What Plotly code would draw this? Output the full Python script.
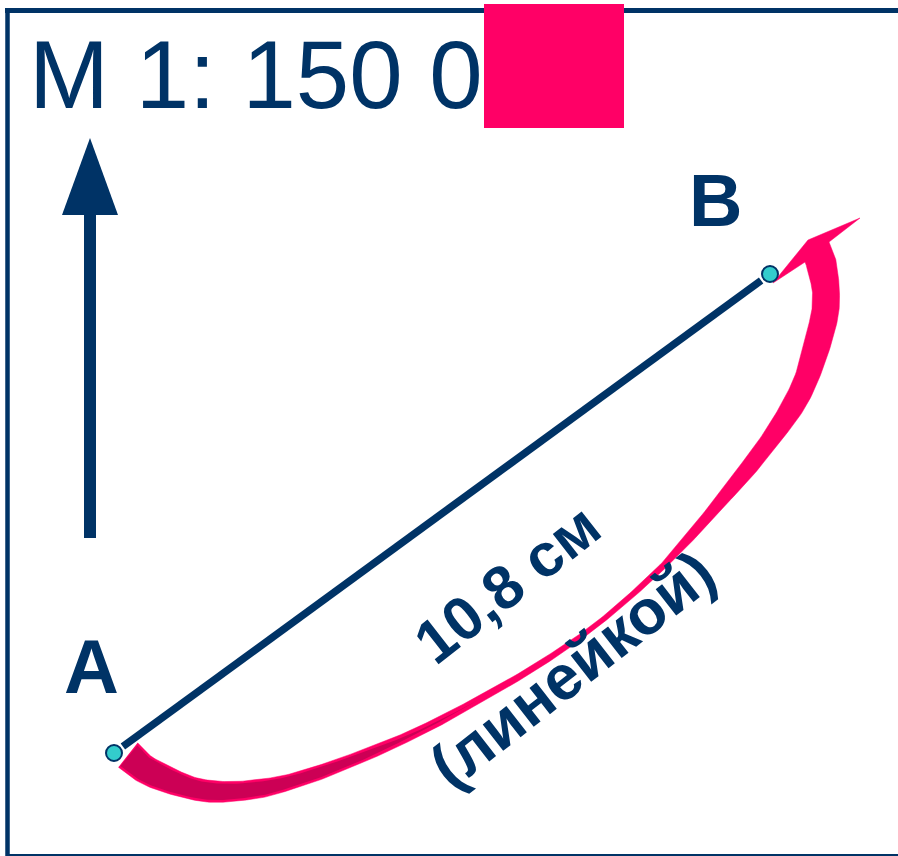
import numpy as np
import plotly.graph_objects as go

# ---- data (pixel coordinates of the 898x856 drawing) ----
point_labels = ["A", "B"]
point_x = [114, 770]
point_y = [753, 274]

scale_text = "M 1: 150 0"
distance_text = "10,8 см"
method_text = "(линейкой)"

# centerline of the curved (pink) arrow and its width along the way
arc_x = [128, 150, 200, 250, 300, 360, 420, 480, 540, 600, 660, 700, 757, 800, 822, 826, 821]
arc_y = [755, 772, 790, 790, 779, 757, 731, 699, 664, 622, 569, 525, 457, 393, 327, 293, 262]
arc_w = [31, 28, 22, 19, 15, 12, 9, 7, 6, 5, 6, 10, 17, 23, 27, 27, 30]
dark_until = 7  # index of control point where the darker underside ends

# arrow head of the curved arrow: notch, apex, shoulder, barb tip, barb root
head_x = [829, 860, 808, 773, 805]
head_y = [242, 218, 240, 283, 262]

# north arrow
north_x = [90, 90, 62, 118]
north_y = [538, 138, 215, 215]

NAVY = "#003366"
PINK = "#FF0066"
DARK_PINK = "#CC0055"
CYAN = "#33CCCC"
FONT = "Arial, Liberation Sans, sans-serif"


def catmull(xs, ys, ws, n=24):
    P = np.column_stack([xs, ys]).astype(float)
    E = np.vstack([2 * P[0] - P[1], P, 2 * P[-1] - P[-2]])
    pts, wid = [], []
    for i in range(len(P) - 1):
        p0, p1, p2, p3 = E[i:i + 4]
        last = i == len(P) - 2
        t = np.linspace(0, 1, n + (1 if last else 0), endpoint=last)[:, None]
        c = 0.5 * ((2 * p1) + (-p0 + p2) * t + (2 * p0 - 5 * p1 + 4 * p2 - p3) * t ** 2
                   + (-p0 + 3 * p1 - 3 * p2 + p3) * t ** 3)
        pts.append(c)
        tt = t[:, 0]
        s = tt * tt * (3 - 2 * tt)  # smooth width transition
        wid.append(ws[i] + (ws[i + 1] - ws[i]) * s)
    return np.vstack(pts), np.concatenate(wid)


def band(c, w):
    tx = np.gradient(c[:, 0])
    ty = np.gradient(c[:, 1])
    L = np.hypot(tx, ty)
    nx, ny = -ty / L, tx / L
    outer = np.column_stack([c[:, 0] + nx * w / 2, c[:, 1] + ny * w / 2])
    inner = np.column_stack([c[:, 0] - nx * w / 2, c[:, 1] - ny * w / 2])
    return outer, inner


center, width = catmull(arc_x, arc_y, arc_w)
outer, inner = band(center, width)

px = list(outer[:, 0]) + head_x + list(inner[::-1, 0])
py = list(outer[:, 1]) + head_y + list(inner[::-1, 1])

fig = go.Figure()

# full pink arrow
fig.add_trace(go.Scatter(x=px, y=py, mode="lines", fill="toself", fillcolor=PINK,
                         line=dict(color=PINK, width=0.5), hoverinfo="skip"))

# darker underside on the first part
n_dark = dark_until * 24
dc = center[1:n_dark + 1]
dw = np.maximum(width[1:n_dark + 1] - 4.5, 0)
taper = np.clip((n_dark - np.arange(1, n_dark + 1)) / 48.0, 0, 1)
dw = dw * taper
do, di = band(dc, dw)
fig.add_trace(go.Scatter(x=list(do[:, 0]) + list(di[::-1, 0]),
                         y=list(do[:, 1]) + list(di[::-1, 1]),
                         mode="lines", fill="toself", fillcolor=DARK_PINK,
                         line=dict(color=DARK_PINK, width=0), hoverinfo="skip"))

# north arrow
fig.add_trace(go.Scatter(x=north_x[:2], y=[north_y[0], north_y[2] - 2], mode="lines",
                         line=dict(color=NAVY, width=12), hoverinfo="skip"))
fig.add_trace(go.Scatter(x=[north_x[2], north_x[1], north_x[3], north_x[2]],
                         y=[north_y[2], north_y[1], north_y[3], north_y[2]],
                         mode="lines", fill="toself", fillcolor=NAVY,
                         line=dict(color=NAVY, width=0), hoverinfo="skip"))

# segment A-B (shortened at both ends)
ax, ay, bx, by = point_x[0], point_y[0], point_x[1], point_y[1]
d = np.hypot(bx - ax, by - ay)
ux, uy = (bx - ax) / d, (by - ay) / d
gap = 11
fig.add_trace(go.Scatter(x=[ax + ux * gap, bx - ux * gap], y=[ay + uy * gap, by - uy * gap],
                         mode="lines", line=dict(color=NAVY, width=7.5), hoverinfo="skip"))

# points
fig.add_trace(go.Scatter(x=point_x, y=point_y, mode="markers",
                         marker=dict(size=16, color=CYAN, line=dict(color=NAVY, width=2)),
                         hoverinfo="skip"))

# frame and scale box
shapes = [
    dict(type="line", x0=5, x1=898, y0=10.5, y1=10.5, line=dict(color=NAVY, width=5)),
    dict(type="line", x0=7.5, x1=7.5, y0=9, y1=856, line=dict(color=NAVY, width=4.5)),
    dict(type="line", x0=6, x1=898, y0=855, y1=855, line=dict(color=NAVY, width=2)),
    dict(type="rect", x0=484, x1=624, y0=4, y1=128, fillcolor=PINK, line=dict(width=0)),
]

annotations = [
    dict(x=27, y=74, text=scale_text, xanchor="left", yanchor="middle", showarrow=False,
         font=dict(family=FONT, size=96, color=NAVY)),
    dict(x=point_x[1] - 55, y=200, text="<b>" + point_labels[1] + "</b>", showarrow=False,
         xanchor="center", yanchor="middle", font=dict(family=FONT, size=74, color=NAVY)),
    dict(x=point_x[0] - 23, y=666, text="<b>" + point_labels[0] + "</b>", showarrow=False,
         xanchor="center", yanchor="middle", font=dict(family=FONT, size=76, color=NAVY)),
    dict(x=507, y=584, text="<b>" + distance_text + "</b>", showarrow=False, textangle=-38,
         xanchor="center", yanchor="middle", font=dict(family=FONT, size=61, color=NAVY)),
    dict(x=572, y=669, text="<b>" + method_text + "</b>", showarrow=False, textangle=-38,
         xanchor="center", yanchor="middle", font=dict(family=FONT, size=63, color=NAVY)),
]

fig.update_layout(
    width=898, height=856, margin=dict(l=0, r=0, t=0, b=0),
    paper_bgcolor="white", plot_bgcolor="white", showlegend=False,
    xaxis=dict(range=[0, 898], visible=False, fixedrange=True),
    yaxis=dict(range=[856, 0], visible=False, fixedrange=True),
    shapes=shapes, annotations=annotations,
)

fig.write_html("out.html", config={"displayModeBar": False},
               post_script="document.body.style.margin='0';document.body.style.padding='0';"
                           "document.body.style.overflow='hidden';")
